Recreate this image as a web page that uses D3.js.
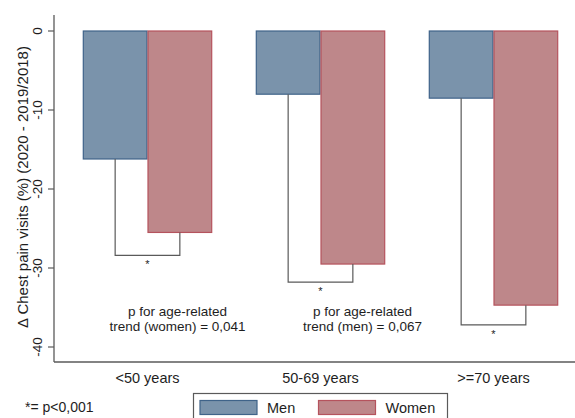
<!DOCTYPE html>
<html><head><meta charset="utf-8">
<script src="https://cdn.jsdelivr.net/npm/d3@7"></script>
<style>
html,body{margin:0;padding:0;background:#fff;}
svg{display:block;font-family:Arial,"Liberation Sans",sans-serif;}
</style></head>
<body>
<svg id="chart" width="575" height="418"></svg>
<script>
const categories = ["<50 years", "50-69 years", ">=70 years"];
const seriesNames = ["Men", "Women"];
const menValues = [-16.2, -8.0, -8.5];
const womenValues = [-25.5, -29.5, -34.7];
const bracketLevels = [-28.4, -31.8, -37.2];
const yTicks = [0, -10, -20, -30, -40];
const annotations = [
  {cat: 0, lines: ["p for age-related", "trend (women) = 0,041"]},
  {cat: 1, lines: ["p for age-related", "trend (men) = 0,067"]}
];
const footnote = "*= p<0,001";
const yTitle = "\u0394 Chest pain visits (%) (2020 - 2019/2018)";

const fills = {Men: "#7A93AB", Women: "#BE878A"};
const strokes = {Men: "#3F6389", Women: "#B5535D"};
const textColor = "#1e1e1e";
const axisColor = "#5a5a5a";

const svg = d3.select("#chart");
const plotTop = 15, plotBottom = 362, plotLeft = 54, plotRight = 575;

const y = d3.scaleLinear().domain([0, -40]).range([31, 347]);
const x0 = d3.scaleBand().domain(categories).range([61, 580]).paddingInner(0.252).paddingOuter(0.126);
const x1 = d3.scaleBand().domain(seriesNames).range([0, x0.bandwidth()]);

const data = categories.map((c, i) => ({cat: c, values: [
  {s: "Men", v: menValues[i]}, {s: "Women", v: womenValues[i]}]}));

// bars
const g = svg.append("g");
g.selectAll("g.grp").data(data).join("g").attr("class", "grp")
  .attr("transform", d => `translate(${x0(d.cat)},0)`)
  .selectAll("rect").data(d => d.values).join("rect")
  .attr("x", d => x1(d.s) + 0.5)
  .attr("y", d => y(0))
  .attr("width", x1.bandwidth() - 1)
  .attr("height", d => y(d.v) - y(0))
  .attr("fill", d => fills[d.s])
  .attr("stroke", d => strokes[d.s])
  .attr("stroke-width", 1.2);

// significance brackets
data.forEach((d, i) => {
  const xm = x0(d.cat) + x1("Men") + x1.bandwidth() / 2;
  const xw = x0(d.cat) + x1("Women") + x1.bandwidth() / 2;
  const yb = y(bracketLevels[i]);
  svg.append("path")
    .attr("d", `M${xm},${y(menValues[i])}V${yb}H${xw}V${y(womenValues[i])}`)
    .attr("fill", "none").attr("stroke", axisColor).attr("stroke-width", 1.2);
  svg.append("text").attr("x", (xm + xw) / 2).attr("y", yb + 13)
    .attr("text-anchor", "middle").attr("font-size", 11).attr("fill", textColor).text("*");
});

// annotations
annotations.forEach(a => {
  const cx = x0(categories[a.cat]) + x0.bandwidth() / 2 + 30;
  a.lines.forEach((ln, j) => {
    svg.append("text").attr("x", a.cat === 0 ? cx : cx + 12).attr("y", 316 + j * 14.5)
      .attr("text-anchor", "middle").attr("font-size", 13.5).attr("fill", textColor).text(ln);
  });
});

// y axis
svg.append("line").attr("x1", plotLeft).attr("x2", plotLeft).attr("y1", plotTop).attr("y2", plotBottom)
  .attr("stroke", axisColor).attr("stroke-width", 1.3);
const yt = svg.append("g").selectAll("g").data(yTicks).join("g");
yt.append("line").attr("x1", plotLeft - 6).attr("x2", plotLeft).attr("y1", d => y(d)).attr("y2", d => y(d))
  .attr("stroke", axisColor).attr("stroke-width", 1.2);
yt.append("text").attr("transform", d => `translate(${42},${y(d)}) rotate(-90)`)
  .attr("text-anchor", "middle").attr("font-size", 13.5).attr("fill", textColor).text(d => d);

svg.append("text").attr("transform", `translate(28,${187}) rotate(-90)`)
  .attr("text-anchor", "middle").attr("font-size", 15).attr("fill", textColor).text(yTitle);

// x axis
svg.append("line").attr("x1", plotLeft).attr("x2", plotRight).attr("y1", plotBottom).attr("y2", plotBottom)
  .attr("stroke", axisColor).attr("stroke-width", 1.3);
svg.append("g").selectAll("text").data(categories).join("text")
  .attr("x", d => x0(d) + x0.bandwidth() / 2).attr("y", 383)
  .attr("text-anchor", "middle").attr("font-size", 14.5).attr("fill", textColor).text(d => d);

// footnote
svg.append("text").attr("x", 25).attr("y", 412).attr("font-size", 14).attr("fill", textColor).text(footnote);

// legend
const leg = svg.append("g");
leg.append("rect").attr("x", 193.5).attr("y", 393.5).attr("width", 254).attr("height", 40)
  .attr("fill", "#fff").attr("stroke", axisColor).attr("stroke-width", 1.2);
const legItems = [{s: "Men", x: 200}, {s: "Women", x: 318.5}];
legItems.forEach(it => {
  leg.append("rect").attr("x", it.x).attr("y", 400.5).attr("width", 57).attr("height", 14)
    .attr("fill", fills[it.s]).attr("stroke", strokes[it.s]).attr("stroke-width", 1.2);
  leg.append("text").attr("x", it.x + 67).attr("y", 413).attr("font-size", 14.5).attr("fill", textColor).text(it.s);
});
</script>
</body></html>
